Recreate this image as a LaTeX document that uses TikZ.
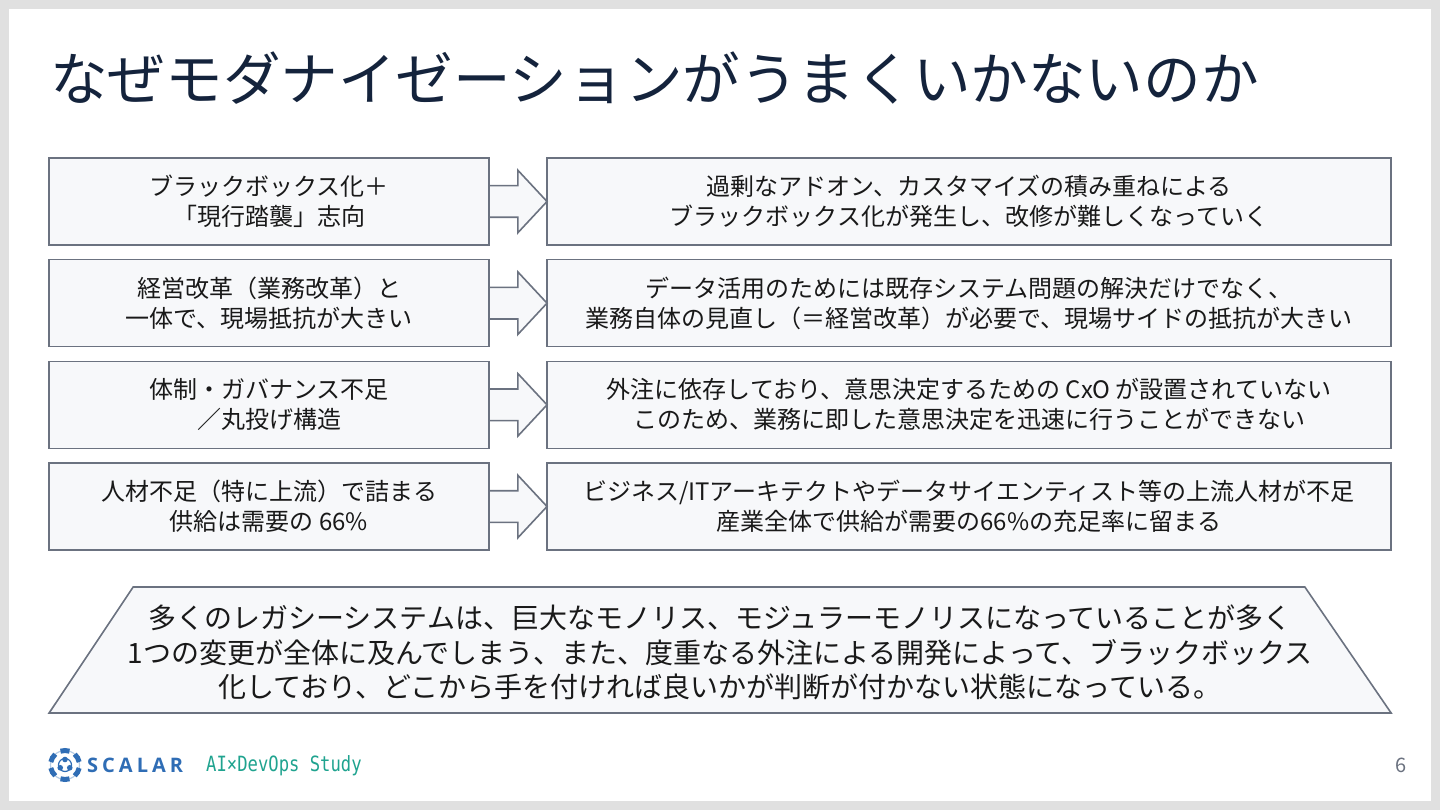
\documentclass[tikz,border=0pt]{standalone}
\usepackage{fontspec}
\usepackage{xcolor}
\setmainfont{Noto Sans CJK JP}
\newfontfamily\latinmono[FakeStretch=0.82]{DejaVu Sans Mono}
\newfontfamily\latinsans{Open Sans}
\usetikzlibrary{positioning,shapes.arrows,shapes.geometric}
\definecolor{frameGray}{HTML}{E0E0E0}
\definecolor{boxFill}{HTML}{F7F8FA}
\definecolor{boxLine}{HTML}{6B7280}
\definecolor{titleNavy}{HTML}{14233C}
\definecolor{logoBlue}{HTML}{2F6DB5}
\definecolor{logoTeal}{HTML}{1FA38F}

\begin{document}
\begin{tikzpicture}[
  x=1pt, y=-1pt,
  node distance=14.67pt and 58pt,
  lbox/.style={draw=boxLine, fill=boxFill, line width=1.6pt, align=center, font=\fontsize{24}{30}\selectfont, minimum width=440pt, minimum height=87pt, inner sep=0pt, outer sep=0pt, text=black!90, execute at begin node={\rule{0pt}{30.5pt}}},
  rbox/.style={lbox, minimum width=844pt},
  harrow/.style={draw=boxLine, fill=boxFill, line width=1.6pt, shape=single arrow, minimum width=61pt, minimum height=58pt, single arrow head extend=15.5pt, single arrow head indent=0pt, single arrow tip angle=94, inner xsep=0pt, inner ysep=15pt, outer sep=0pt},
  summary/.style={draw=boxLine, fill=boxFill, line width=1.6pt, shape=trapezium, trapezium stretches body=true, trapezium left angle=56.3, trapezium right angle=55.6, text height=126pt, text depth=0pt, minimum width=1342pt, inner sep=0pt, outer sep=0pt},
  sumtext/.style={align=center, inner sep=0pt, font=\fontsize{28}{34.5}\selectfont, text=black!90}
]
\useasboundingbox (0,0) rectangle (1440,810);
\fill[frameGray] (0,0) rectangle (1440,810);
\fill[white] (9,9) rectangle (1431,801);
\node[anchor=west, inner sep=0pt, text=titleNavy, font=\fontsize{57.6}{60}\selectfont] (title) at (50,78) {なぜモダナイゼーションがうまくいかないのか};

\node[lbox, anchor=north west] (l1) at (49,158) {ブラックボックス化＋\\「現行踏襲」志向};
\node[lbox, below=of l1] (l2) {経営改革（業務改革）と\\一体で、現場抵抗が大きい};
\node[lbox, below=of l2] (l3) {体制・ガバナンス不足\\／丸投げ構造};
\node[lbox, below=of l3] (l4) {人材不足（特に上流）で詰まる\\供給は需要の 66\%};

\node[rbox, right=of l1] (r1) {過剰なアドオン、カスタマイズの積み重ねによる\\ブラックボックス化が発生し、改修が難しくなっていく};
\node[rbox, right=of l2] (r2) {データ活用のためには既存システム問題の解決だけでなく、\\業務自体の見直し（＝経営改革）が必要で、現場サイドの抵抗が大きい};
\node[rbox, right=of l3] (r3) {外注に依存しており、意思決定するための CxO が設置されていない\\このため、業務に即した意思決定を迅速に行うことができない};
\node[rbox, right=of l4] (r4) {ビジネス/ITアーキテクトやデータサイエンティスト等の上流人材が不足\\産業全体で供給が需要の66\%の充足率に留まる};

\node[harrow, right=0pt of l1] (a1) {};
\node[harrow, right=0pt of l2] (a2) {};
\node[harrow, right=0pt of l3] (a3) {};
\node[harrow, right=0pt of l4] (a4) {};

\node[summary] (sum) at (719,650) {};
\node[sumtext] (sumt) at (720,652.5) {多くのレガシーシステムは、巨大なモノリス、モジュラーモノリスになっていることが多く\\1つの変更が全体に及んでしまう、また、度重なる外注による開発によって、ブラックボックス\\化しており、どこから手を付ければ良いかが判断が付かない状態になっている。};

% logo
\draw[logoBlue!35, line width=1.2pt] (65,765) circle (14.5pt);
\foreach \a in {0,60,...,300}
  \draw[logoBlue, line width=5pt] (65,765) ++(\a+12:14.5) arc[start angle=\a+12, end angle=\a+48, radius=14.5];
\draw[logoBlue, line width=1.2pt] (65,765) circle (6.5pt);
\foreach \a in {30,150,270}
  \fill[logoBlue] (65,765) ++(\a:5.5) circle (2.8pt);
\node[anchor=west, inner sep=0pt, text=logoBlue, font=\latinsans\bfseries\fontsize{20}{20}\selectfont] (scalar) at (87,765.5) {S\kern4ptC\kern4ptA\kern4ptL\kern4ptA\kern4ptR};
\node[anchor=west, inner sep=0pt, text=logoTeal, font=\latinmono\fontsize{21}{22}\selectfont] (study) at (206,766) {AI×DevOps Study};
\node[anchor=center, inner sep=0pt, text=boxLine, font=\fontsize{20}{22}\selectfont] (page) at (1401,765) {6};
\end{tikzpicture}
\end{document}
